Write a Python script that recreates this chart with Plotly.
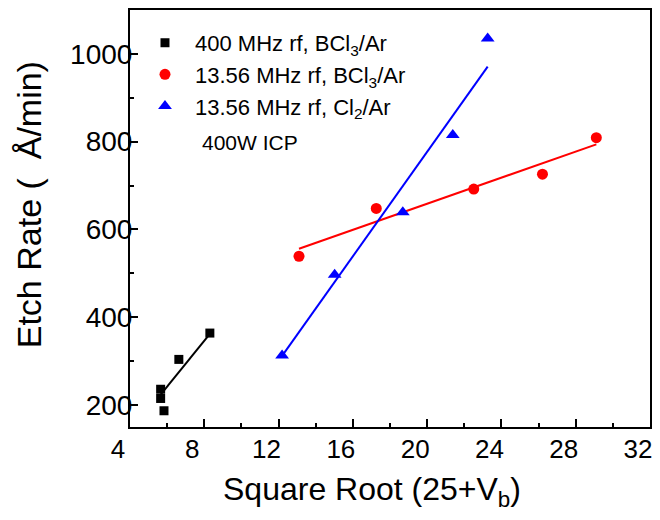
import plotly.graph_objects as go

# ---- data ----
x_400_bcl3 = [8.30, 6.63, 5.65, 5.65, 5.83]
y_400_bcl3 = [364, 304, 236, 215, 187]

x_1356_bcl3 = [13.10, 17.26, 22.51, 26.21, 29.11]
y_1356_bcl3 = [539, 648, 692, 726, 809]

x_1356_cl2 = [12.19, 15.02, 18.69, 21.38, 23.26]
y_1356_cl2 = [313, 497, 639, 815, 1035]

# linear-fit lines (end points)
fit_400_bcl3_x = [5.65, 8.30]
fit_400_bcl3_y = [224, 362]
fit_1356_bcl3_x = [13.10, 29.11]
fit_1356_bcl3_y = [556, 794]
fit_1356_cl2_x = [12.19, 23.26]
fit_1356_cl2_y = [312, 971]

names = ["400 MHz rf, BCl<sub>3</sub>/Ar",
         "13.56 MHz rf, BCl<sub>3</sub>/Ar",
         "13.56 MHz rf, Cl<sub>2</sub>/Ar"]
note_text = "400W ICP"
x_title = "Square Root (25+V<sub>b</sub>)"
y_title = "Etch Rate (  Å/min)"

FONT = "Liberation Sans, Arial, sans-serif"

# plot box in pixels
L, R, T, B = 130, 651, 8, 427
W, H = R - L, B - T

fig = go.Figure()

series = [
    (x_400_bcl3, y_400_bcl3, fit_400_bcl3_x, fit_400_bcl3_y, "black", "square", 9),
    (x_1356_bcl3, y_1356_bcl3, fit_1356_bcl3_x, fit_1356_bcl3_y, "#ff0000", "circle", 11),
    (x_1356_cl2, y_1356_cl2, fit_1356_cl2_x, fit_1356_cl2_y, "#0000ff", "triangle-up", 12),
]

for i, (xs, ys, fx, fy, col, sym, sz) in enumerate(series):
    fig.add_trace(go.Scatter(x=fx, y=fy, mode="lines",
                             line=dict(color=col, width=2),
                             showlegend=False, hoverinfo="skip"))
for i, (xs, ys, fx, fy, col, sym, sz) in enumerate(series):
    fig.add_trace(go.Scatter(x=xs, y=ys, mode="markers", name=names[i],
                             marker=dict(color=col, symbol=sym, size=sz,
                                         line=dict(width=0)),
                             legendgroup=str(i)))

axis_common = dict(
    showline=True, linecolor="black", linewidth=2, mirror=True,
    ticks="inside", ticklen=8, tickwidth=1.5, tickcolor="black",
    showgrid=False, zeroline=False,
)

fig.update_xaxes(range=[4, 32.0001], dtick=4, tick0=4,
                 minor=dict(dtick=2, ticks="inside", ticklen=4, tickwidth=1.5,
                            tickcolor="black"),
                 tickfont=dict(family=FONT, size=26, color="black"),
                 ticklabelshift=-12, ticklabelstandoff=-2,
                 **axis_common)
fig.update_yaxes(range=[150, 1100], dtick=200, tick0=200,
                 minor=dict(dtick=100, ticks="inside", ticklen=4, tickwidth=1.5,
                            tickcolor="black"),
                 tickfont=dict(family=FONT, size=28, color="black"),
                 ticklabelstandoff=-10,
                 **axis_common)

fig.add_annotation(text=x_title, xref="paper", yref="paper",
                   x=(372 - L) / W, y=-(492 - B) / H,
                   xanchor="center", yanchor="middle", showarrow=False,
                   font=dict(family=FONT, size=32, color="black"))
fig.add_annotation(text=y_title, xref="paper", yref="paper",
                   x=-(L - 29) / W, y=1 - (204 - T) / H, textangle=-90,
                   xanchor="center", yanchor="middle", showarrow=False,
                   font=dict(family=FONT, size=34, color="black"))

fig.add_annotation(text=note_text, xref="paper", yref="paper",
                   x=(200 - L) / W, y=1 - (141 - T) / H,
                   xanchor="left", yanchor="middle", showarrow=False,
                   font=dict(family=FONT, size=21, color="black"))

fig.update_layout(
    width=660, height=520,
    margin=dict(l=L, r=660 - R, t=T, b=520 - B),
    paper_bgcolor="white", plot_bgcolor="white",
    showlegend=True,
    legend=dict(x=(135 - L) / W, y=1 - (20 - T) / H,
                xanchor="left", yanchor="top",
                bgcolor="rgba(0,0,0,0)", borderwidth=0,
                itemwidth=50,
                font=dict(family=FONT, size=22, color="black"),
                tracegroupgap=0),
)

fig.write_html("out.html")
